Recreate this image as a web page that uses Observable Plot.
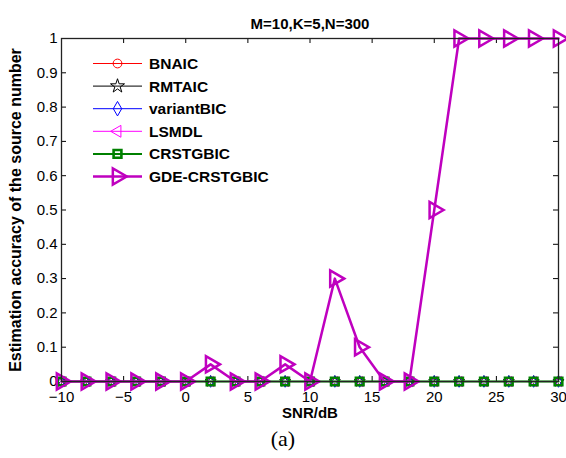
<!DOCTYPE html>
<html>
<head>
<meta charset="utf-8">
<script src="https://cdn.jsdelivr.net/npm/d3@7"></script>
<script src="https://cdn.jsdelivr.net/npm/@observablehq/plot@0.6"></script>
<style>
  body { margin: 0; background: #fff; }
  #caption {
    width: 566px;
    text-align: center;
    font: 22px "Liberation Serif", "Times New Roman", serif;
    line-height: 26px;
    color: #000;
  }
</style>
</head>
<body>
<div id="chart"></div>
<div id="caption">(a)</div>
<script>
// SNR grid (dB)
const snr = [-10, -8, -6, -4, -2, 0, 2, 4, 6, 8, 10, 12, 14, 16, 18, 20, 22, 24, 26, 28, 30];

// Estimation accuracy for each method
const bnaic      = [0, 0, 0, 0, 0, 0, 0, 0, 0, 0, 0, 0, 0, 0, 0, 0, 0, 0, 0, 0, 0];
const rmtaic     = [0, 0, 0, 0, 0, 0, 0, 0, 0, 0, 0, 0, 0, 0, 0, 0, 0, 0, 0, 0, 0];
const variantBIC = [0, 0, 0, 0, 0, 0, 0, 0, 0, 0, 0, 0, 0, 0, 0, 0, 0, 0, 0, 0, 0];
const lsmdl      = [0, 0, 0, 0, 0, 0, 0, 0, 0, 0, 0, 0, 0, 0, 0, 0, 0, 0, 0, 0, 0];
const crstgbic   = [0, 0, 0, 0, 0, 0, 0, 0, 0, 0, 0, 0, 0, 0, 0, 0, 0, 0, 0, 0, 0];
const gdeCrstgbic = [0, 0, 0, 0, 0, 0, 0.05, 0, 0, 0.05, 0, 0.3, 0.1, 0, 0, 0.5, 1, 1, 1, 1, 1];

const names = ["BNAIC", "RMTAIC", "variantBIC", "LSMDL", "CRSTGBIC", "GDE-CRSTGBIC"];
const values = [bnaic, rmtaic, variantBIC, lsmdl, crstgbic, gdeCrstgbic];

// Tick positions
const xTicks = [-10, -5, 0, 5, 10, 15, 20, 25, 30];
const yTicks = [0, 0.1, 0.2, 0.3, 0.4, 0.5, 0.6, 0.7, 0.8, 0.9, 1];

const titleText = "M=10,K=5,N=300";
const xLabel = "SNR/dB";
const yLabel = "Estimation accuracy of the source number";

// Line/marker styling per method
const styles = {
  "BNAIC":        {color: "#ff0000", symbol: "circle",   rotate: 0,   lw: 1,   r: 3.5, sw: 1},
  "RMTAIC":       {color: "#000000", symbol: "star",     rotate: 0,   lw: 1,   r: 3.5, sw: 1},
  "variantBIC":   {color: "#0000ff", symbol: "diamond",  rotate: 0,   lw: 1,   r: 3.5, sw: 1},
  "LSMDL":        {color: "#ff00ff", symbol: "triangle", rotate: -90, lw: 1,   r: 3.8, sw: 1},
  "CRSTGBIC":     {color: "#008000", symbol: "square",   rotate: 0,   lw: 2,   r: 4.3, sw: 2.6},
  "GDE-CRSTGBIC": {color: "#bf00bf", symbol: "triangle", rotate: 90,  lw: 2.5, r: 6,   sw: 2.5}
};

const rows = names.flatMap((name, k) => snr.map((x, i) => ({name, x, y: values[k][i]})));

const W = 566, H = 426;
const mL = 61, mR = 8, mT = 38, mB = 45;
const fw = W - mL - mR, fh = H - mT - mB;
const tickLen = 5;

const seriesMarks = names.flatMap(name => {
  const s = styles[name];
  const data = rows.filter(d => d.name === name);
  return [
    Plot.line(data, {x: "x", y: "y", stroke: s.color, strokeWidth: s.lw}),
    Plot.dot(data, {x: "x", y: "y", symbol: () => s.symbol, r: s.r, stroke: s.color,
                    fill: "none", strokeWidth: s.sw, rotate: s.rotate})
  ];
});

const chart = Plot.plot({
  width: W, height: H,
  marginLeft: mL, marginRight: mR, marginTop: mT, marginBottom: mB,
  style: {fontFamily: "Arial, 'Liberation Sans', sans-serif", color: "#000", background: "#fff"},
  x: {domain: [-10, 30]},
  y: {domain: [0, 1]},
  symbol: {type: "identity"},
  marks: [
    // inward ticks on all four sides
    Plot.ruleX(xTicks, {x: d => d, insetTop: fh - tickLen, stroke: "#000"}),
    Plot.ruleX(xTicks, {x: d => d, insetBottom: fh - tickLen, stroke: "#000"}),
    Plot.ruleY(yTicks, {y: d => d, insetRight: fw - tickLen, stroke: "#000"}),
    Plot.ruleY(yTicks, {y: d => d, insetLeft: fw - tickLen, stroke: "#000"}),
    Plot.axisX({ticks: xTicks, tickSize: 0, tickPadding: 10, fontSize: 15, label: null}),
    Plot.axisY({ticks: yTicks, tickSize: 0, tickPadding: 4, fontSize: 15, label: null,
                tickFormat: d => String(+d.toFixed(1))}),
    ...seriesMarks,
    Plot.frame({stroke: "#222", strokeWidth: 1.3}),
    Plot.text([titleText], {frameAnchor: "top", dy: -20, fontWeight: "bold", fontSize: 15, fill: "#000"}),
    Plot.text([xLabel], {frameAnchor: "bottom", dy: 36, fontWeight: "bold", fontSize: 15, fill: "#000"}),
    Plot.text([yLabel], {frameAnchor: "left", dx: -46, rotate: -90, textAnchor: "middle",
                         fontWeight: "bold", fontSize: 16, fill: "#000"})
  ]
});

// Legend (no box), drawn in the upper-left of the frame
const svg = d3.select(chart);
const leg = svg.append("g")
  .attr("font-family", "Arial, 'Liberation Sans', sans-serif")
  .attr("text-anchor", "start");
const symMap = {circle: d3.symbolCircle, star: d3.symbolStar, diamond: d3.symbolDiamond,
                triangle: d3.symbolTriangle, square: d3.symbolSquare};
names.forEach((name, i) => {
  const s = styles[name];
  const y = 63.5 + i * 22.6;
  const r = Math.max(s.r, 4.4);
  const g = leg.append("g").attr("transform", `translate(0,${y})`);
  g.append("line").attr("x1", 93).attr("x2", 142).attr("y1", 0).attr("y2", 0)
    .attr("stroke", s.color).attr("stroke-width", s.lw);
  g.append("path")
    .attr("d", d3.symbol(symMap[s.symbol], r * r * Math.PI)())
    .attr("transform", `translate(117.5,0) rotate(${s.rotate})`)
    .attr("fill", "none").attr("stroke", s.color).attr("stroke-width", s.sw);
  g.append("text").attr("x", 149).attr("y", 0).attr("dy", "0.35em")
    .attr("text-anchor", "start")
    .attr("font-size", 15.5).attr("font-weight", "bold").attr("fill", "#000").text(name);
});

document.getElementById("chart").append(chart);
</script>
</body>
</html>
